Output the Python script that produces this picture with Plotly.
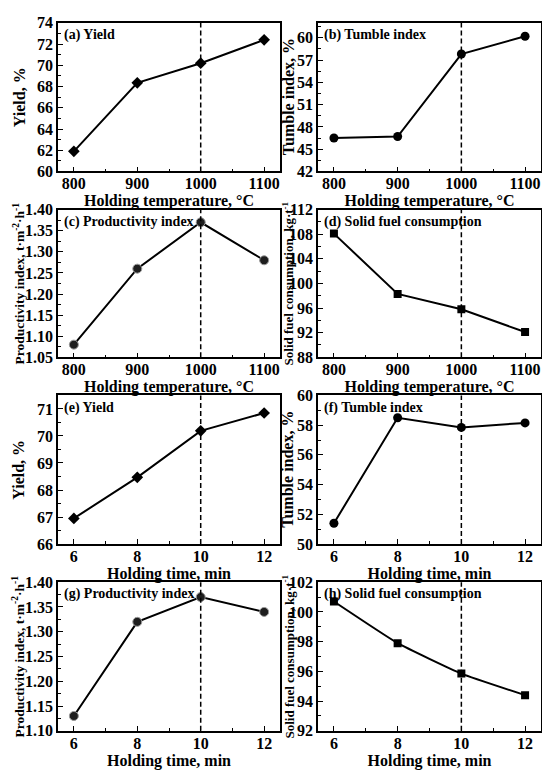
import plotly.graph_objects as go
from plotly.subplots import make_subplots

# data
temp = [800, 900, 1000, 1100]
hold_time = [6, 8, 10, 12]
opt_temp = 1000
opt_time = 10

yield_temp = [61.9, 68.35, 70.2, 72.4]
tumble_temp = [46.5, 46.7, 57.8, 60.2]
prod_temp = [1.08, 1.26, 1.37, 1.28]
fuel_temp = [108.1, 98.3, 95.8, 92.1]

yield_time = [66.95, 68.47, 70.19, 70.85]
tumble_time = [51.4, 58.5, 57.85, 58.15]
prod_time = [1.13, 1.32, 1.37, 1.34]
fuel_time = [100.7, 97.9, 95.85, 94.4]

labels = ["(a) Yield", "(b) Tumble index", "(c) Productivity index", "(d) Solid fuel consumption",
          "(e) Yield", "(f) Tumble index", "(g) Productivity index", "(h) Solid fuel consumption"]
ytitles = ["Yield, %", "Tumble index, %", "Productivity index, t·m<sup>-2</sup>·h<sup>-1</sup>",
           "Solid fuel consumption, kg·t<sup>-1</sup>"] * 2

FONT = "Liberation Serif, Times New Roman, serif"

# the page body has an 8px margin, so the figure is drawn 8px in from the corner
OFF = 8
W, H = 550 - OFF, 777 - OFF


def px_x(p):
    return (p - OFF) / W


def px_y(p):
    return 1 - (p - OFF) / H


# panel boxes in reference pixels
col_px = {1: (58, 280), 2: (318, 541)}
row_px = {1: (15, 167), 2: (206, 357), 3: (396, 548), 4: (587, 739)}
ytitle_x = {1: 19, 2: 288}

fig = make_subplots(rows=4, cols=2)

panels = [
    (1, 1, temp, yield_temp, "diamond", [60, 74], 60, 2, None, 16),
    (1, 2, temp, tumble_temp, "circle", [42, 62], 42, 3, None, 16),
    (2, 1, temp, prod_temp, "circle", [1.05, 1.40], 1.05, 0.05, ".2f", 13.5),
    (2, 2, temp, fuel_temp, "square", [88, 112], 88, 4, None, 13),
    (3, 1, hold_time, yield_time, "diamond", [66, 71.5], 66, 1, None, 16),
    (3, 2, hold_time, tumble_time, "circle", [50, 60], 50, 2, None, 16),
    (4, 1, hold_time, prod_time, "circle", [1.10, 1.40], 1.10, 0.05, ".2f", 13.5),
    (4, 2, hold_time, fuel_time, "square", [92, 102], 92, 2, None, 13),
]

for i, (r, c, xs, ys, sym, yr, y0, dy, fmt, tsize) in enumerate(panels):
    shaded = (r in (2, 4) and c == 1)
    fig.add_trace(go.Scatter(
        x=xs, y=ys, mode="lines+markers",
        line=dict(color="black", width=2,
                  shape="spline" if (r == 4 and c == 2) else "linear", smoothing=0.4),
        marker=dict(symbol=sym, size={"diamond": 9, "circle": 9, "square": 8}[sym],
                    color="#1e1e1e" if shaded else "black",
                    line=dict(color="#9a9a9a" if shaded else "black", width=1 if shaded else 0)),
        showlegend=False), row=r, col=c)

    is_temp = r <= 2
    n = i + 1
    xa = "xaxis" if n == 1 else "xaxis%d" % n
    ya = "yaxis" if n == 1 else "yaxis%d" % n
    xr = xa.replace("axis", "")
    yrf = ya.replace("axis", "")
    x0p, x1p = col_px[c]
    t0p, t1p = row_px[r]
    fig.layout[xa].update(
        domain=[px_x(x0p), px_x(x1p)],
        range=[775, 1125] if is_temp else [5.5, 12.5],
        tickvals=temp if is_temp else hold_time,
        ticklabelstandoff=-3,
        title=dict(text="Holding temperature, °C" if is_temp else "Holding time, min",
                   standoff=0, font=dict(family=FONT, size=16, weight="bold")),
        minor=dict(dtick=50 if is_temp else 1, ticks="inside", ticklen=3, tickcolor="black"),
    )
    fig.layout[ya].update(
        domain=[px_y(t1p), px_y(t0p)],
        range=yr, tick0=y0, dtick=dy, tickformat=fmt,
        minor=dict(dtick=dy / 2, ticks="inside", ticklen=3, tickcolor="black"),
    )

    # y titles placed at fixed positions like in the source figure
    fig.add_annotation(text=ytitles[i], xref="paper", yref=yrf + " domain",
                       x=px_x(ytitle_x[c]), y=0.5, textangle=-90, showarrow=False,
                       xanchor="center", yanchor="middle",
                       font=dict(family=FONT, size=tsize, color="black", weight="bold"))

    fig.add_shape(type="line", xref=xr, yref=yrf + " domain",
                  x0=opt_temp if is_temp else opt_time, x1=opt_temp if is_temp else opt_time,
                  y0=0, y1=1, line=dict(color="black", width=1.5, dash="5px,3px"))
    fig.add_annotation(text=labels[i], xref=xr + " domain", yref=yrf + " domain",
                       x=0.02, y=0.985, xanchor="left", yanchor="top", showarrow=False,
                       font=dict(family=FONT, size=14, color="black", weight="bold"))

fig.update_xaxes(showline=True, mirror=True, linecolor="black", linewidth=1.5,
                 ticks="inside", ticklen=5, tickcolor="black", showgrid=False, zeroline=False,
                 tickfont=dict(family=FONT, size=16, weight="bold"))
fig.update_yaxes(showline=True, mirror=True, linecolor="black", linewidth=1.5,
                 ticks="inside", ticklen=5, tickcolor="black", showgrid=False, zeroline=False,
                 tickfont=dict(family=FONT, size=16, weight="bold"))

fig.update_layout(
    width=W, height=H,
    margin=dict(l=0, r=0, t=0, b=0),
    plot_bgcolor="white", paper_bgcolor="white",
    font=dict(family=FONT, color="black", weight="bold"),
)

fig.write_html("out.html")
